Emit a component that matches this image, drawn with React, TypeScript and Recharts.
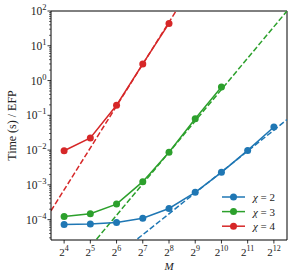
import React from 'react'
import { LineChart, Line, XAxis, YAxis, ReferenceLine } from 'recharts'

// x is log2(M)
const exps = [4, 5, 6, 7, 8, 9, 10, 11, 12]
const chi2 = [7.2e-5, 7.5e-5, 8.3e-5, 1.1e-4, 2.1e-4, 6.1e-4, 2.3e-3, 9.8e-3, 0.046]
const chi3 = [1.24e-4, 1.48e-4, 2.8e-4, 1.24e-3, 8.7e-3, 0.08, 0.65]
const chi4 = [9.6e-3, 0.0224, 0.195, 3.0, 44]

// dashed power-law fits, endpoints read at x = 3.5 and 12.5
const fitX = [3.5, 12.5]
const fit2 = [2.9e-7, 0.0752]
const fit3 = [7.4e-7, 100]
const fit4 = [1.8e-4, 1.26e7]

const yMajor = [1e-4, 1e-3, 1e-2, 1e-1, 1, 10, 100]
const yMajorLabels = ['−4', '−3', '−2', '−1', '0', '1', '2']

const series = [
  { name: 'χ = 2', color: '#1f77b4', values: chi2, fit: fit2 },
  { name: 'χ = 3', color: '#2ca02c', values: chi3, fit: fit3 },
  { name: 'χ = 4', color: '#d62728', values: chi4, fit: fit4 },
]

const yTicks: number[] = []
;[-5, -4, -3, -2, -1, 0, 1].forEach((e) => {
  for (let m = 1; m < 10; m++) {
    const v = m * Math.pow(10, e)
    if (v >= 2.6e-5 && v <= 100) yTicks.push(v)
  }
})
yTicks.push(100)

const FONT = 'Liberation Serif, DejaVu Serif, serif'

const XTick = (props: any) => {
  const { x, y, payload } = props
  return (
    <g>
      <line x1={x} y1={y} x2={x} y2={y + 3.5} stroke="#000" strokeWidth={0.8} />
      <text x={x} y={y + 16} textAnchor="middle" fontFamily={FONT} fontSize={11} fill="#222">
        2<tspan dy={-5} fontSize={8}>{payload.value}</tspan>
      </text>
    </g>
  )
}

const YTick = (props: any) => {
  const { x, y, payload } = props
  const idx = yMajor.findIndex((m) => Math.abs(Math.log10(m) - Math.log10(payload.value)) < 1e-6)
  if (idx < 0) {
    return <line x1={x} y1={y} x2={x - 2} y2={y} stroke="#000" strokeWidth={0.6} />
  }
  return (
    <g>
      <line x1={x} y1={y} x2={x - 3.5} y2={y} stroke="#000" strokeWidth={0.8} />
      <text x={x - 4.5} y={y + 4} textAnchor="end" fontFamily={FONT} fontSize={11.5} fill="#222">
        10<tspan dy={-5} fontSize={8.5}>{yMajorLabels[idx]}</tspan>
      </text>
    </g>
  )
}

const LegendBox = () => (
  <svg width={80} height={48} style={{ position: 'absolute', left: 216, top: 189 }}>
    {series.map((s, i) => (
      <g key={s.name} transform={`translate(0, ${8 + i * 14.6})`}>
        <line x1={6} y1={0} x2={29} y2={0} stroke={s.color} strokeWidth={1.5} />
        <circle cx={17.5} cy={0} r={3.5} fill={s.color} />
        <text x={37} y={4} fontFamily={FONT} fontSize={11} fill="#222">
          <tspan fontStyle="italic">χ</tspan> = {i + 2}
        </text>
      </g>
    ))}
  </svg>
)

export default function App() {
  const pts = (vals: number[]) => vals.map((v, i) => ({ x: exps[i], y: v }))
  const fitPts = (vals: number[]) => vals.map((v, i) => ({ x: fitX[i], y: v }))
  return (
    <div style={{ position: 'absolute', left: 0, top: 0, width: 299, height: 279, background: '#fff' }}>
      <LineChart width={299} height={279} margin={{ top: 11, right: 12, left: 0, bottom: 0 }}>
        <XAxis
          type="number"
          dataKey="x"
          domain={[3.5, 12.5]}
          ticks={exps}
          interval={0}
          allowDataOverflow
          height={39}
          tickLine={false}
          tickSize={0}
          tickMargin={0}
          stroke="#000"
          tick={<XTick />}
          label={{
            content: ({ viewBox }: any) => (
              <text x={viewBox.x + viewBox.width / 2} y={viewBox.y + 30} textAnchor="middle" fontFamily={FONT} fontStyle="italic" fontSize={11} fill="#222">
                M
              </text>
            ),
          }}
        />
        <YAxis
          type="number"
          scale="log"
          domain={[2.6e-5, 100]}
          ticks={yTicks}
          interval={0}
          allowDataOverflow
          width={51}
          tickLine={false}
          tickSize={0}
          tickMargin={0}
          stroke="#000"
          tick={<YTick />}
          label={{
            content: ({ viewBox }: any) => {
              const cx = 11.5
              const cy = viewBox.y + viewBox.height / 2
              return (
                <text x={cx} y={cy} transform={`rotate(-90 ${cx} ${cy})`} textAnchor="middle" dominantBaseline="central" fontFamily={FONT} fontSize={12} fill="#222">
                  Time (s) / EFP
                </text>
              )
            },
          }}
        />
        <ReferenceLine y={100} stroke="#000" strokeWidth={1} />
        <ReferenceLine x={12.5} stroke="#000" strokeWidth={1} />
        {series.map((s) => (
          <Line
            key={s.name + 'fit'}
            data={fitPts(s.fit)}
            dataKey="y"
            stroke={s.color}
            strokeWidth={1.5}
            strokeDasharray="5.5 2.4"
            dot={false}
            legendType="none"
            isAnimationActive={false}
          />
        ))}
        {series.map((s) => (
          <Line
            key={s.name}
            name={s.name}
            data={pts(s.values)}
            dataKey="y"
            stroke={s.color}
            strokeWidth={1.5}
            dot={{ r: 3.5, fill: s.color, stroke: s.color, strokeWidth: 0 }}
            isAnimationActive={false}
          />
        ))}
      </LineChart>
      <LegendBox />
    </div>
  )
}
